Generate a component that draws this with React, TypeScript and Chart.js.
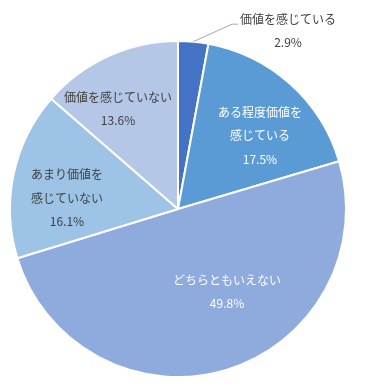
import React, { useEffect, useRef } from "react";
import { Chart, registerables } from "chart.js";

Chart.register(...registerables);

const categories: string[][] = [
  ["価値を感じている"],
  ["ある程度価値を", "感じている"],
  ["どちらともいえない"],
  ["あまり価値を", "感じていない"],
  ["価値を感じていない"],
];
const values: number[] = [2.9, 17.5, 49.8, 16.1, 13.6];
const percentLabels: string[] = ["2.9%", "17.5%", "49.8%", "16.1%", "13.6%"];
const sliceColors: string[] = ["#4472C4", "#5B9BD5", "#8FAADC", "#9DC3E6", "#B4C7E7"];
const labelColors: string[] = ["#404040", "#FFFFFF", "#FFFFFF", "#404040", "#404040"];
// label centre offsets, in units of the pie radius, relative to the pie centre
const labelOffsets: [number, number][] = [
  [0.655, -1.06],
  [0.488, -0.435],
  [0.292, 0.494],
  [-0.661, -0.065],
  [-0.357, -0.595],
];

const FONT = '12px "Noto Sans CJK JP", "Noto Sans", sans-serif';
const LINE_H = 23.5;

const labelPlugin = {
  id: "sliceLabels",
  afterDraw(chart: any) {
    const ctx = chart.ctx;
    const meta = chart.getDatasetMeta(0);
    ctx.save();
    ctx.font = FONT;
    ctx.textAlign = "center";
    ctx.textBaseline = "middle";
    meta.data.forEach((arc: any, i: number) => {
      const cx = arc.x;
      const cy = arc.y;
      const r = arc.outerRadius;
      const lines = [...categories[i], percentLabels[i]];
      const lx = cx + labelOffsets[i][0] * r;
      const ly = cy + labelOffsets[i][1] * r;
      if (i === 0) {
        // leader line
        const mid = (arc.startAngle + arc.endAngle) / 2;
        const sx = cx + Math.cos(mid) * r;
        const sy = cy + Math.sin(mid) * r;
        const ty = ly - LINE_H / 2 + 5;
        const tw = ctx.measureText(categories[i][0]).width;
        const ex = lx - tw / 2 - 2;
        ctx.strokeStyle = "#A6A6A6";
        ctx.lineWidth = 1;
        ctx.beginPath();
        ctx.moveTo(sx, sy);
        ctx.lineTo(ex - 6, ty);
        ctx.lineTo(ex, ty);
        ctx.stroke();
      }
      ctx.fillStyle = labelColors[i];
      const top = ly - ((lines.length - 1) * LINE_H) / 2;
      lines.forEach((t, k) => {
        ctx.fillText(t, lx, top + k * LINE_H);
      });
    });
    ctx.restore();
  },
};

export default function App() {
  const ref = useRef<HTMLCanvasElement | null>(null);
  useEffect(() => {
    if (!ref.current) return;
    const chart = new Chart(ref.current, {
      type: "pie",
      data: {
        labels: categories.map((c) => c.join("")),
        datasets: [
          {
            data: values,
            backgroundColor: sliceColors,
            borderColor: "#FFFFFF",
            borderWidth: 2,
          },
        ],
      },
      options: {
        responsive: false,
        animation: false,
        layout: { padding: { left: 9, right: 20, top: 40, bottom: 14 } },
        plugins: {
          legend: { display: false },
          tooltip: { enabled: false },
        },
      },
      plugins: [labelPlugin],
    });
    return () => chart.destroy();
  }, []);
  return (
    <div style={{ position: "fixed", left: 0, top: 0, width: 367, height: 392, background: "#fff" }}>
      <canvas ref={ref} width={367} height={392} style={{ width: 367, height: 392 }} />
    </div>
  );
}
